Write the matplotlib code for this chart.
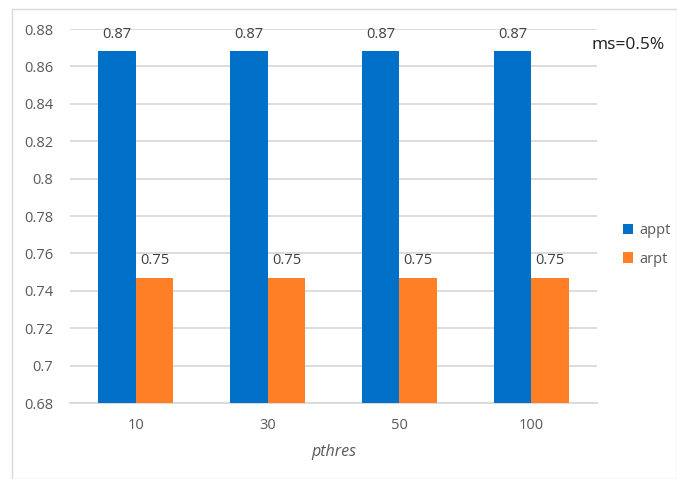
import matplotlib
matplotlib.use("Agg")
import matplotlib.pyplot as plt
from matplotlib.patches import Rectangle
import numpy as np

categories = ["10", "30", "50", "100"]
appt = [0.868, 0.868, 0.868, 0.868]
arpt = [0.747, 0.747, 0.747, 0.747]
appt_labels = ["0.87", "0.87", "0.87", "0.87"]
arpt_labels = ["0.75", "0.75", "0.75", "0.75"]
yticks = [0.68, 0.70, 0.72, 0.74, 0.76, 0.78, 0.80, 0.82, 0.84, 0.86, 0.88]
ytick_labels = ["0.68", "0.7", "0.72", "0.74", "0.76", "0.78", "0.8", "0.82", "0.84", "0.86", "0.88"]

plt.rcParams["font.family"] = ["Open Sans", "DejaVu Sans"]

blue = "#0070C8"
orange = "#FF7F27"
grid_c = "#D9D9D9"
text_c = "#595959"

fig = plt.figure(figsize=(6.77, 4.79), dpi=100)
fig.patches.append(Rectangle((12 / 677, 0.0), 1 - 12 / 677, 1 - 9 / 479,
                             transform=fig.transFigure, fill=False,
                             edgecolor="#D9D9D9", linewidth=1.0))

ax = fig.add_axes([70 / 677, 1 - 403 / 479, 527 / 677, (403 - 29) / 479])
x = np.arange(len(categories))
w = 0.285
b1 = ax.bar(x - w / 2, [v - 0.68 for v in appt], w, bottom=0.68, color=blue, label="appt", zorder=3)
b2 = ax.bar(x + w / 2, [v - 0.68 for v in arpt], w, bottom=0.68, color=orange, label="arpt", zorder=3)

for xi, v, s in zip(x - w / 2, appt, appt_labels):
    ax.text(xi, v + 0.005, s, ha="center", va="bottom", fontsize=10.5, color="#404040")
for xi, v, s in zip(x + w / 2, arpt, arpt_labels):
    ax.text(xi, v + 0.005, s, ha="center", va="bottom", fontsize=10.5, color="#404040")

ax.set_xlim(-0.5, len(categories) - 0.5)
ax.set_ylim(0.68, 0.88)
ax.set_yticks(yticks)
ax.set_yticklabels(ytick_labels)
ax.set_xticks(x)
ax.set_xticklabels(categories)
ax.yaxis.grid(True, color=grid_c, linewidth=1.3, zorder=0)
ax.set_axisbelow(True)
for s in ["top", "right", "left"]:
    ax.spines[s].set_visible(False)
ax.spines["bottom"].set_color(grid_c)
ax.spines["bottom"].set_linewidth(1.3)
ax.tick_params(axis="both", length=0, labelsize=10.5, colors=text_c)
ax.tick_params(axis="y", pad=12)
ax.tick_params(axis="x", pad=11)
ax.set_xlabel("pthres", fontstyle="italic", fontsize=11.5, color=text_c, labelpad=8)

fig.legend(handles=[b1, b2], labels=["appt", "arpt"], loc="center left",
           bbox_to_anchor=(623 / 677, 1 - 245 / 479), frameon=False,
           borderpad=0, borderaxespad=0,
           fontsize=10.5, labelcolor=text_c, handlelength=0.7, handleheight=0.7,
           handletextpad=0.4, labelspacing=0.9)

fig.text(628 / 677, 1 - 45 / 479, "ms=0.5%", ha="center", va="center", fontsize=12.5, color="#202020")

fig.savefig("out.png", dpi=100)
